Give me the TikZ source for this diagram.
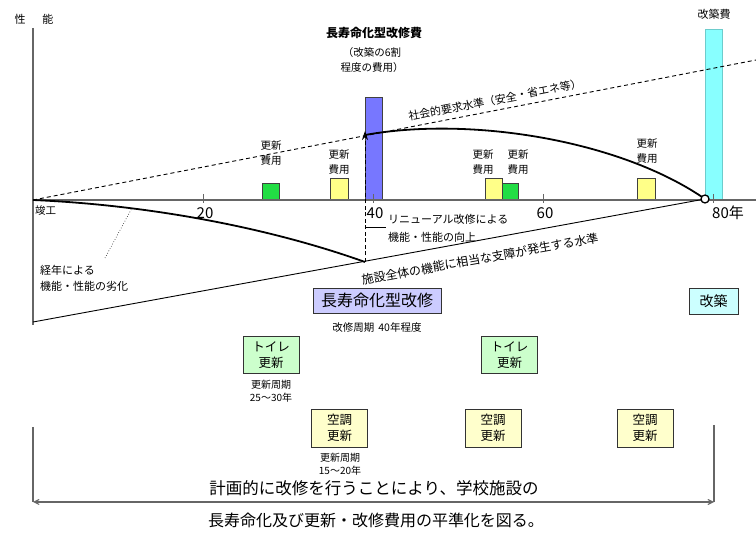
\documentclass[tikz,border=0pt]{standalone}
\usepackage{fontspec}
\setmainfont{Noto Sans CJK JP}
\usetikzlibrary{arrows.meta}
\definecolor{axisgray}{HTML}{666666}
\definecolor{bargreen}{HTML}{22DD44}
\definecolor{baryellow}{HTML}{FFFF88}
\definecolor{barpurple}{HTML}{7777FF}
\definecolor{barcyan}{HTML}{88FFFF}
\definecolor{boxlav}{HTML}{CCCCFF}
\definecolor{boxcyan}{HTML}{CCFFFF}
\definecolor{boxgreen}{HTML}{CCFFCC}
\definecolor{boxyellow}{HTML}{FFFFCC}
\begin{document}
\begin{tikzpicture}[x=1pt,y=-1pt,
  lbl/.style={inner sep=0pt, align=center, font=\fontsize{10.5}{15}\selectfont},
  num/.style={inner sep=0pt, font=\fontsize{15}{16}\selectfont},
  bar/.style={draw=black!75, line width=0.6pt},
  axisline/.style={draw=axisgray, line width=1.2pt},
  curve/.style={draw=black, line width=1.8pt},
  levelline/.style={draw=black, line width=0.9pt},
  sbox/.style={draw=black!80, line width=0.8pt, inner sep=0pt, align=center},
  smallbox/.style={sbox, minimum width=56pt, minimum height=37pt, font=\fontsize{12.5}{16}\selectfont}
]
\useasboundingbox (0,0) rectangle (756,534);

% bars
\draw[bar, fill=bargreen] (262,183) rectangle (279,200);
\draw[bar, fill=baryellow] (330,178) rectangle (348,200);
\draw[bar, fill=barpurple] (365,97) rectangle (382,200);
\draw[bar, fill=baryellow] (485,178) rectangle (502,200);
\draw[bar, fill=bargreen] (502,183) rectangle (518,200);
\draw[bar, fill=baryellow] (637,178) rectangle (655,200);
\draw[draw=barcyan!80!black, line width=0.4pt, fill=barcyan] (705,29) rectangle (722,200);

% axes
\coordinate (ytop) at (33,28);
\coordinate (ybot) at (33,325);
\coordinate (O) at (33,200);
\coordinate (xend) at (756,200);
\draw[axisline] (ytop) -- (ybot);
\draw[axisline] (O) -- (xend);
\foreach \xx in {203,373,543,713} \draw[axisgray, line width=1pt] (\xx,194) -- (\xx,203);

% level lines
\coordinate (dashend) at (756,60);
\draw[levelline, dashed, dash pattern=on 4pt off 3pt] (O) -- (dashend);
\coordinate (lowstart) at (33,322);
\coordinate (P80) at (705,199);
\draw[levelline] (lowstart) -- (P80);

% curves
\coordinate (P40low) at (365,262);
\coordinate (P40high) at (365,135);
\draw[curve] (O) .. controls (150,205) and (270,228) .. (P40low);
\draw[curve] (P40high) .. controls (470,116) and (620,140) .. (P80);
\draw[levelline, dashed, dash pattern=on 4pt off 2.5pt, -{Stealth[length=9pt,width=6pt]}] (P40low) -- (365,131);
\node[circle, draw=black, fill=white, line width=1.3pt, minimum size=8pt, inner sep=0pt] (endc) at (P80) {};

% leaders
\coordinate (renA) at (365,227);
\coordinate (renB) at (386,227);
\draw[black, line width=0.7pt] (renA) -- (renB);
\coordinate (degA) at (105,258);
\coordinate (degB) at (132,208);
\draw[black, line width=0.6pt, dotted] (degA) -- (degB);

% axis labels
\node[lbl, anchor=west] (shunko) at (35,211) {竣工};
\node[num] (n20) at (205,213) {20};
\node[num] (n40) at (375,213) {40};
\node[num] (n60) at (545,213) {60};
\node[num] (n80) at (728,213) {80年};
\node[lbl, font=\fontsize{11}{12}\selectfont] (seino) at (34,19) {性\hspace{17pt}能};

% top labels
\node[lbl, font=\fontsize{12}{14}\bfseries\selectfont] (chojulbl) at (374,33) {長寿命化型改修費};
\node[lbl] (chojusub) at (372,60) {（改築の6割\\程度の費用）};
\node[lbl, font=\fontsize{11}{12}\selectfont] (kaichikuhi) at (714,14) {改築費};

% bar labels
\node[lbl] (k1) at (271,153) {更新\\費用};
\node[lbl] (k2) at (339,162) {更新\\費用};
\node[lbl] (k3) at (483,162) {更新\\費用};
\node[lbl] (k4) at (518,162) {更新\\費用};
\node[lbl] (k5) at (647,151) {更新\\費用};

% slanted labels
\node[lbl, font=\fontsize{11}{12}\selectfont, rotate=10.9] (shakai) at (495,100) {社会的要求水準（安全・省エネ等）};
\node[lbl, font=\fontsize{12}{13}\selectfont, rotate=10.2] (shisetsu) at (480,259) {施設全体の機能に相当な支障が発生する水準};

% curve labels
\node[lbl, anchor=west, font=\fontsize{11}{12}\selectfont] (ren1) at (388,219) {リニューアル改修による};
\node[lbl, anchor=west, font=\fontsize{11}{12}\selectfont] (ren2) at (388,237) {機能・性能の向上};
\node[lbl, anchor=west, font=\fontsize{11}{12}\selectfont] (deg1) at (40,270) {経年による};
\node[lbl, anchor=west, font=\fontsize{11}{12}\selectfont] (deg2) at (40,286) {機能・性能の劣化};

% boxes
\node[sbox, fill=boxlav, minimum width=128pt, minimum height=25pt, font=\fontsize{16}{18}\selectfont] (chojubox) at (377,300.5) {長寿命化型改修};
\node[lbl] (chojucycle) at (377,328) {改修周期\hspace{4pt}40年程度};
\node[sbox, fill=boxcyan, minimum width=49pt, minimum height=26pt, font=\fontsize{14}{16}\selectfont] (kaichikubox) at (713.5,301) {改築};
\node[smallbox, fill=boxgreen] (toilet1) at (271,355) {トイレ\\更新};
\node[smallbox, fill=boxgreen] (toilet2) at (509.5,355) {トイレ\\更新};
\node[lbl, font=\fontsize{10}{13}\selectfont] (toiletcycle) at (271,391) {更新周期\\25〜30年};
\node[smallbox, fill=boxyellow, minimum height=38pt] (ac1) at (339.5,428) {空調\\更新};
\node[smallbox, fill=boxyellow, minimum height=38pt] (ac2) at (493,428) {空調\\更新};
\node[smallbox, fill=boxyellow, minimum height=38pt] (ac3) at (645,428) {空調\\更新};
\node[lbl, font=\fontsize{10}{13}\selectfont] (accycle) at (340,464) {更新周期\\15〜20年};

% bracket
\coordinate (brL1) at (33,427);
\coordinate (brL2) at (33,502);
\coordinate (brR1) at (714,425);
\coordinate (brR2) at (714,502);
\draw[axisgray, line width=1.1pt] (brL1) -- (brL2);
\draw[axisgray, line width=1.1pt] (brR1) -- (brR2);
\draw[axisgray, line width=1.1pt, {Straight Barb[length=5pt,width=5pt]}-{Straight Barb[length=5pt,width=5pt]}] (brL2) -- (brR2);

% bottom text
\node[inner sep=0pt, font=\fontsize{16.5}{18}\selectfont] (concl1) at (374,488) {計画的に改修を行うことにより、学校施設の};
\node[inner sep=0pt, font=\fontsize{16}{18}\selectfont] (concl2) at (376,520) {長寿命化及び更新・改修費用の平準化を図る。};
\end{tikzpicture}
\end{document}
